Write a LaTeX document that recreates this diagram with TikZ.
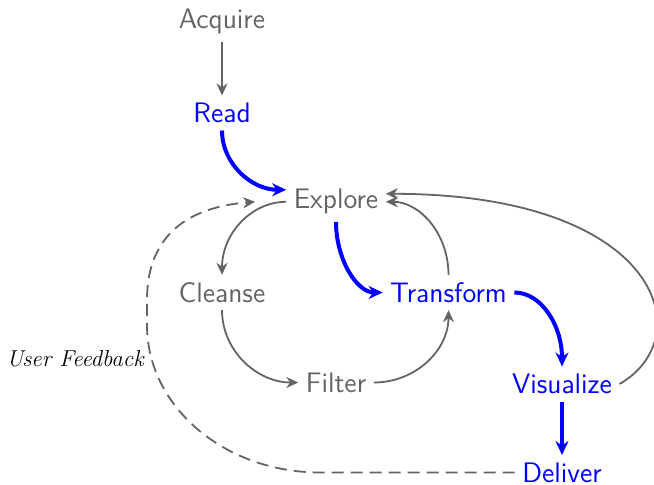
\documentclass[tikz,border=0pt]{standalone}
\usetikzlibrary{arrows.meta,calc}
\definecolor{ink}{RGB}{100,100,100}
\definecolor{accent}{RGB}{0,0,255}
\begin{document}
\begin{tikzpicture}[x=0.5pt,y=-0.5pt,
  stage/.style={font=\sffamily\fontsize{14.1}{17}\selectfont, text=ink, inner sep=3.6pt},
  hot/.style={stage, text=accent},
  fblabel/.style={font=\rmfamily\itshape\fontsize{11.5}{14}\selectfont, text=black, inner sep=0pt},
  flow/.style={draw=ink, line width=0.9pt, -{Stealth[length=6pt,width=5.5pt]}},
  hotflow/.style={draw=accent, line width=2pt, -{Stealth[length=7pt,width=6.5pt]}},
  feedback/.style={draw=ink, line width=0.9pt, dash pattern=on 6pt off 3.5pt, -{Stealth[length=6pt,width=5.5pt]}},
]
\useasboundingbox (0,0) rectangle (654,485);

% pipeline stages
\node[stage] (acquire)   at (222,21.5)  {Acquire};
\node[hot]   (read)      at (222,113)   {Read};
\node[stage] (explore)   at (336,201.8) {Explore};
\node[stage] (cleanse)   at (222,292.5) {Cleanse};
\node[hot]   (transform) at (448.5,292.5) {Transform};
\node[stage] (filter)    at (336,382.5) {Filter};
\node[hot]   (visualize) at (562,384)   {Visualize};
\node[hot]   (deliver)   at (562,472.5) {Deliver};

% main path
\draw[flow] (acquire) -- (read);
\draw[hotflow] (read.south) .. controls +(0,33) and +(-35,0) .. ($(explore.west)+(0,-12)$);
\draw[hotflow] (explore.south) .. controls +(0,37) and +(-26,0) .. (transform.west);
\draw[hotflow] (transform.east) .. controls +(27,0) and +(0,-41) .. (visualize.north);
\draw[hotflow] (visualize.south) -- (deliver.north);

% cleaning loop
\draw[flow] (explore.west) .. controls +(-35,0) and +(0,-41) .. (cleanse.north);
\draw[flow] (cleanse.south) .. controls +(0,40) and +(-42,0) .. (filter.west);
\draw[flow] (filter.east) .. controls +(42,0) and +(0,40) .. (transform.south);
\draw[flow] (transform.north) .. controls +(0,-41) and +(34,0) .. (explore.east);
\draw[flow] (visualize.east) .. controls +(82,-47) and +(274,0) .. ($(explore.east)+(0,-8)$);

% feedback loop
\coordinate (fbA) at (320,472.5);
\coordinate (fbB) at (147,325);
\coordinate (fbC) at (147,300);
\draw[feedback] (deliver.west) -- (fbA)
  .. controls +(-95,0) and +(0,82) .. (fbB) -- (fbC)
  .. controls +(0,-68) and +(-63,5) .. ($(explore.west)+(-31,0)$);
\node[fblabel, anchor=base east] (fbtext) at (144,367) {User Feedback};
\end{tikzpicture}
\end{document}
